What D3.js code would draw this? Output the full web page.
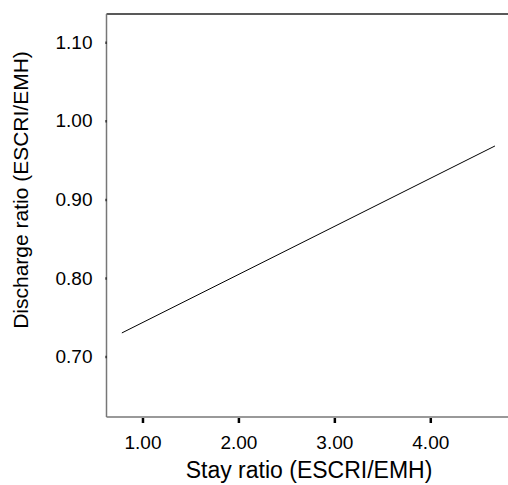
<!DOCTYPE html>
<html><head><meta charset="utf-8">
<script src="https://cdn.jsdelivr.net/npm/d3@7"></script>
<style>body{margin:0;background:#fff;} svg{display:block;}</style>
</head><body>
<svg id="c" width="508" height="485"></svg>
<script>
const stayRatio = [0.785, 4.674];
const dischargeRatio = [0.730, 0.968];
const xTicks = [1, 2, 3, 4];
const yTicks = [0.70, 0.80, 0.90, 1.00, 1.10];
const xTitle = "Stay ratio (ESCRI/EMH)";
const yTitle = "Discharge ratio (ESCRI/EMH)";

const svg = d3.select("#c");
const L = 106.5, R = 508, T = 14, B = 417;
const x = d3.scaleLinear().domain([0.625, 4.81]).range([L, R]);
const y = d3.scaleLinear().domain([0.623, 1.136]).range([B, T]);
const font = "'Liberation Sans', Arial, Helvetica, sans-serif";

// frame
svg.append("line").attr("x1", L).attr("x2", R).attr("y1", T).attr("y2", T)
  .attr("stroke", "#222").attr("stroke-width", 1.5);
svg.append("line").attr("x1", L).attr("x2", L).attr("y1", T).attr("y2", B)
  .attr("stroke", "#777").attr("stroke-width", 1.5);
svg.append("line").attr("x1", L).attr("x2", R).attr("y1", B).attr("y2", B)
  .attr("stroke", "#777").attr("stroke-width", 1.5);

// x axis
const gx = svg.append("g").attr("transform", `translate(0,${B})`)
  .call(d3.axisBottom(x).tickValues(xTicks).tickFormat(d3.format(".2f")).tickSize(6).tickPadding(13));
gx.select(".domain").remove();
gx.selectAll(".tick line").attr("stroke", "#000").attr("stroke-width", 2.5).attr("y1", 1);
gx.selectAll(".tick text").attr("font-family", font).attr("font-size", 19).attr("fill", "#000");

// y axis
const gy = svg.append("g").attr("transform", `translate(${L},0)`)
  .call(d3.axisLeft(y).tickValues(yTicks).tickFormat(d3.format(".2f")).tickSize(9).tickPadding(5));
gy.select(".domain").remove();
gy.selectAll(".tick line").attr("stroke", "#000").attr("stroke-width", 2.5).attr("x2", -1);
gy.selectAll(".tick text").attr("font-family", font).attr("font-size", 19).attr("fill", "#000");

// line
const pts = stayRatio.map((v, i) => [v, dischargeRatio[i]]);
svg.append("path").datum(pts)
  .attr("d", d3.line().x(d => x(d[0])).y(d => y(d[1])))
  .attr("fill", "none").attr("stroke", "#000").attr("stroke-width", 1);

// titles
svg.append("text").attr("x", 309).attr("y", 478).attr("text-anchor", "middle")
  .attr("font-family", font).attr("font-size", 23).attr("fill", "#000").text(xTitle);
svg.append("text").attr("transform", "translate(28,190) rotate(-90)").attr("text-anchor", "middle")
  .attr("font-family", font).attr("font-size", 21).attr("fill", "#000").text(yTitle);
</script>
</body></html>
